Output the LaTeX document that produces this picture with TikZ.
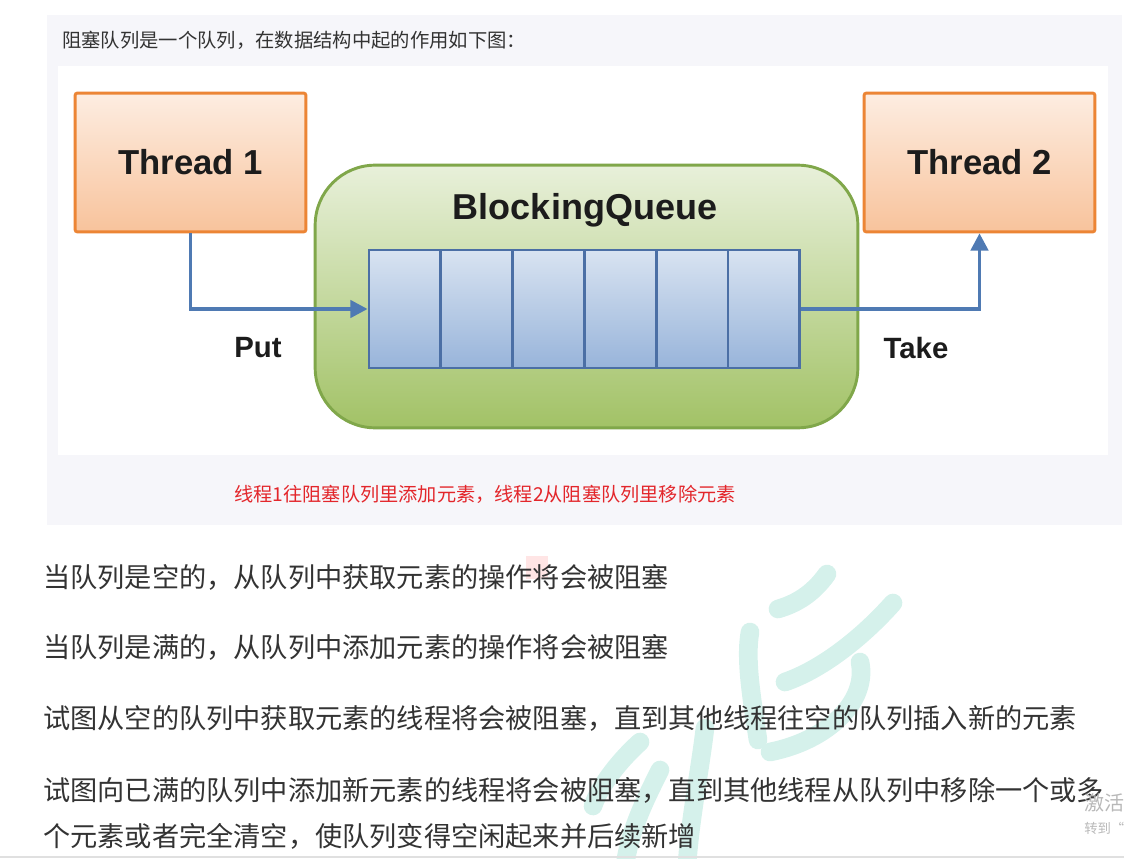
\documentclass[tikz,border=0pt]{standalone}
\usepackage{fontspec}
\setmainfont{Liberation Sans}
\newfontfamily\cjk{Noto Sans CJK SC}
\usetikzlibrary{arrows.meta,positioning}
\definecolor{panelbg}{HTML}{F6F6FA}
\definecolor{thrline}{HTML}{EC8535}
\definecolor{thrtop}{HTML}{FDEDE1}
\definecolor{thrbot}{HTML}{F8C39C}
\definecolor{grnline}{HTML}{80A74A}
\definecolor{grntop}{HTML}{E8F0DA}
\definecolor{grnbot}{HTML}{A2C266}
\definecolor{celline}{HTML}{4B6FA5}
\definecolor{celtop}{HTML}{D8E3F1}
\definecolor{celbot}{HTML}{98B4DA}
\definecolor{flowline}{HTML}{4F7AB3}
\definecolor{txtdark}{HTML}{1C1C1C}
\definecolor{bodytxt}{HTML}{333333}
\definecolor{capred}{HTML}{E3262B}
\definecolor{mint}{HTML}{D5F1EB}
\begin{document}
\begin{tikzpicture}[x=0.75pt,y=-0.75pt,>={Triangle[length=13pt,width=13pt]},
  thread/.style={draw=thrline,line width=2.2pt,top color=thrtop,bottom color=thrbot,
    minimum width=173pt,minimum height=104pt,rounded corners=1.5pt,text=txtdark,
    font=\bfseries\fontsize{26}{30}\selectfont},
  cell/.style={draw=celline,line width=2.1pt,top color=celtop,bottom color=celbot,
    minimum width=53.85pt,minimum height=88.5pt,inner sep=0pt},
  flow/.style={draw=flowline,line width=2.8pt,->},
  lbl/.style={text=txtdark,font=\bfseries\fontsize{22}{26}\selectfont},
  body/.style={anchor=west,inner sep=0pt,text=bodytxt,font=\cjk\fontsize{20.4}{24}\selectfont},
  inkstroke/.style={draw=mint,line width=14pt,line cap=round}]
\clip (0,0) rectangle (1124,859);
\useasboundingbox (0,0) rectangle (1124,859);
\fill[panelbg] (47,15) rectangle (1122,525);
\fill[white] (58,66) rectangle (1108,455);
\node[anchor=west,inner sep=0pt,text=bodytxt,font=\cjk\fontsize{14.5}{18}\selectfont] (intro) at (62,40) {阻塞队列是一个队列，在数据结构中起的作用如下图：};
\node[thread] (t1) at (190.5,162.5) {Thread 1};
\node[thread] (t2) at (979.5,162.5) {Thread 2};
\node[draw=grnline,line width=2.2pt,top color=grntop,bottom color=grnbot,
  minimum width=407pt,minimum height=197pt,rounded corners=45pt] (bq) at (586.5,296.5) {};
\node[text=txtdark,font=\bfseries\fontsize{27}{31}\selectfont] (bqt) at (585,210) {BlockingQueue};
\foreach \i in {0,...,5}
  \node[cell] (c\i) at ({404.9+71.8*\i},309) {};
\draw[flow] (t1.south) |- (c0.west);
\draw[flow] (c5.east) -| (t2.south);
\node[lbl] (put) at (258,348) {Put};
\node[lbl] (take) at (916,348) {Take};
\node[text=capred,font=\cjk\fontsize{14.4}{18}\selectfont] (cap) at (485,494) {线程1往阻塞队列里添加元素，线程2从阻塞队列里移除元素};
\fill[red!10] (526,556) rectangle (548,579);
\draw[inkstroke] (827,574) .. controls (812,595) and (795,604) .. (778,609);
\draw[inkstroke] (893,603) .. controls (860,640) and (820,670) .. (785,682);
\draw[inkstroke] (750,632) .. controls (745,660) and (752,700) .. (758,740);
\draw[inkstroke] (860,662) .. controls (868,700) and (830,740) .. (770,752);
\draw[inkstroke] (705,728) .. controls (700,770) and (690,820) .. (687,865);
\draw[inkstroke] (660,770) .. controls (645,800) and (630,830) .. (625,865);
\draw[inkstroke] (640,742) .. controls (620,760) and (600,785) .. (593,806);
\node[body] (l1) at (43,577) {当队列是空的，从队列中获取元素的操作将会被阻塞};
\node[body] (l2) at (43,647) {当队列是满的，从队列中添加元素的操作将会被阻塞};
\node[body] (l3) at (43,718) {试图从空的队列中获取元素的线程将会被阻塞，直到其他线程往空的队列插入新的元素};
\node[body] (l4) at (43,790) {试图向已满的队列中添加新元素的线程将会被阻塞，直到其他线程从队列中移除一个或多};
\node[body] (l5) at (43,836) {个元素或者完全清空，使队列变得空闲起来并后续新增};
\node[anchor=west,inner sep=0pt,text=black!28,font=\cjk\fontsize{15}{18}\selectfont] (act) at (1084,803) {激活};
\node[anchor=west,inner sep=0pt,text=black!28,font=\cjk\fontsize{10}{12}\selectfont] (goto) at (1084,828) {转到“};
\draw[black!12,line width=1pt] (0,857) -- (1124,857);
\end{tikzpicture}
\end{document}
